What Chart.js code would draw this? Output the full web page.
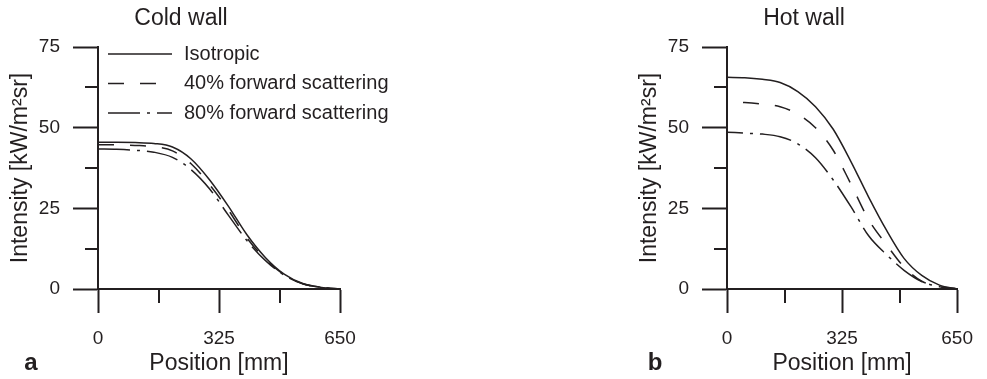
<!DOCTYPE html>
<html>
<head>
<meta charset="utf-8">
<script src="https://cdn.jsdelivr.net/npm/chart.js@4"></script>
<style>
  html, body { margin: 0; padding: 0; background: #fff; }
  #wrap { position: relative; width: 987px; height: 379px; overflow: hidden; }
  canvas { position: absolute; top: 0; }
</style>
</head>
<body>
<div id="wrap">
  <canvas id="cold" width="400" height="379" style="left:0px"></canvas>
  <canvas id="hot" width="358" height="379" style="left:629px"></canvas>
</div>
<script>
// positions along the wall [mm]
const positions = [0, 50, 100, 150, 200, 250, 300, 350, 400, 450, 500, 550, 600, 650];

// cold wall, intensity [kW/m2sr]
const coldIsotropic = [45.5, 45.5, 45.4, 45.1, 44.0, 40.3, 33.8, 25.7, 16.8, 9.7, 4.6, 1.7, 0.5, 0];
const coldForward40 = [44.7, 44.7, 44.5, 44.1, 42.8, 38.8, 32.3, 24.5, 15.8, 9.2, 4.4, 1.6, 0.5, 0];
const coldForward80 = [43.4, 43.3, 43.0, 42.4, 40.8, 37.0, 31.0, 22.9, 15.0, 8.8, 4.3, 1.6, 0.5, 0];

// hot wall
const hotIsotropic = [65.6, 65.5, 65.0, 64.0, 61.2, 56.5, 49.5, 39.5, 28.5, 18.3, 9.5, 4.2, 1.2, 0];
const hotForward40 = [58.0, 57.8, 57.3, 56.5, 54.2, 50.0, 43.0, 32.5, 21.5, 13.8, 6.8, 2.4, 0.7, 0];
const hotForward80 = [48.6, 48.3, 48.0, 47.2, 45.0, 40.7, 33.8, 25.5, 16.5, 10.7, 5.8, 2.3, 0.7, 0];

const seriesLabels = ['Isotropic', '40% forward scattering', '80% forward scattering'];

// tick values
const xTickValues = [0, 325, 650];
const yTickValues = [0, 25, 50, 75];
const xMinorTicks = [162.5, 487.5];
const yMinorTicks = [12.5, 37.5, 62.5];

const ink = '#231f20';
const fontFamily = '"Liberation Sans", Arial, Helvetica, sans-serif';
const dashes = [[], [16, 16], [32, 7, 3, 7]];

// textes, petites graduations et legende dessines a la main
const panelText = {
  id: 'panelText',
  afterDraw(chart, args, opts) {
    const ctx = chart.ctx;
    const ca = chart.chartArea;
    const xs = chart.scales.x;
    const ys = chart.scales.y;
    ctx.save();
    ctx.fillStyle = ink;
    ctx.strokeStyle = ink;

    // minor ticks
    ctx.lineWidth = 2;
    ctx.beginPath();
    yMinorTicks.forEach(v => {
      const y = Math.round(ys.getPixelForValue(v));
      ctx.moveTo(ca.left - 13, y);
      ctx.lineTo(ca.left, y);
    });
    xMinorTicks.forEach(v => {
      const x = Math.round(xs.getPixelForValue(v));
      ctx.moveTo(x, ca.bottom);
      ctx.lineTo(x, ca.bottom + 14);
    });
    ctx.stroke();

    // title
    ctx.font = '23px ' + fontFamily;
    ctx.textAlign = 'center';
    ctx.textBaseline = 'middle';
    ctx.fillText(opts.title, (ca.left + ca.right) / 2 - 38, 19);

    // panel letter
    ctx.font = 'bold 24px ' + fontFamily;
    ctx.textBaseline = 'alphabetic';
    ctx.fillText(opts.letter, opts.letterX, 370);

    // legend
    if (opts.legend) {
      ctx.font = '20px ' + fontFamily;
      ctx.textAlign = 'left';
      ctx.textBaseline = 'middle';
      ctx.lineWidth = 1.5;
      chart.data.datasets.forEach((ds, i) => {
        const y = 54 + i * 29.5;
        ctx.setLineDash(ds.borderDash);
        ctx.beginPath();
        ctx.moveTo(ca.left + 10, y);
        ctx.lineTo(ca.left + 74, y);
        ctx.stroke();
        ctx.setLineDash([]);
        ctx.fillText(ds.label, ca.left + 86, y);
      });
    }
    ctx.restore();
  }
};

function makePanel(id, series, title, letter, letterX, rightPad, dashOffset, legend) {
  const datasets = series.map((vals, i) => ({
    label: seriesLabels[i],
    data: positions.map((p, j) => ({ x: p, y: vals[j] })),
    borderColor: ink,
    borderWidth: 1.5,
    borderDash: dashes[i],
    borderDashOffset: dashOffset,
    pointRadius: 0,
    fill: false,
    cubicInterpolationMode: 'monotone'
  }));

  return new Chart(document.getElementById(id), {
    type: 'line',
    data: { datasets: datasets },
    options: {
      responsive: false,
      animation: false,
      events: [],
      layout: { padding: { top: 47, right: rightPad, left: 0, bottom: 0 } },
      plugins: {
        legend: { display: false },
        tooltip: { enabled: false },
        panelText: { title: title, letter: letter, letterX: letterX, legend: legend }
      },
      scales: {
        x: {
          type: 'linear',
          min: 0,
          max: 650,
          afterBuildTicks: s => { s.ticks = xTickValues.map(v => ({ value: v })); },
          afterFit: s => { s.height = 90; },
          border: { display: true, color: ink, width: 2 },
          grid: { display: true, drawOnChartArea: false, drawTicks: true, tickLength: 24, tickWidth: 2, tickColor: ink },
          ticks: { color: ink, padding: 14, maxRotation: 0, font: { family: fontFamily, size: 19 } },
          title: { display: true, text: 'Position [mm]', color: ink, padding: { top: 0, bottom: 2 }, font: { family: fontFamily, size: 23 } }
        },
        y: {
          type: 'linear',
          min: 0,
          max: 75,
          afterBuildTicks: s => { s.ticks = yTickValues.map(v => ({ value: v })); },
          afterFit: s => { s.width = 98; },
          border: { display: true, color: ink, width: 2 },
          grid: { display: true, drawOnChartArea: false, drawTicks: true, tickLength: 25, tickWidth: 2, tickColor: ink },
          ticks: { color: ink, padding: 13, font: { family: fontFamily, size: 19 } },
          title: { display: true, text: 'Intensity [kW/m²sr]', color: ink, padding: { top: 7, bottom: 0 }, font: { family: fontFamily, size: 23 } }
        }
      }
    },
    plugins: [panelText]
  });
}

makePanel('cold', [coldIsotropic, coldForward40, coldForward80], 'Cold wall', 'a', 31, 60, 0, true);
makePanel('hot', [hotIsotropic, hotForward40, hotForward80], 'Hot wall', 'b', 26, 19, 16, false);
</script>
</body>
</html>
